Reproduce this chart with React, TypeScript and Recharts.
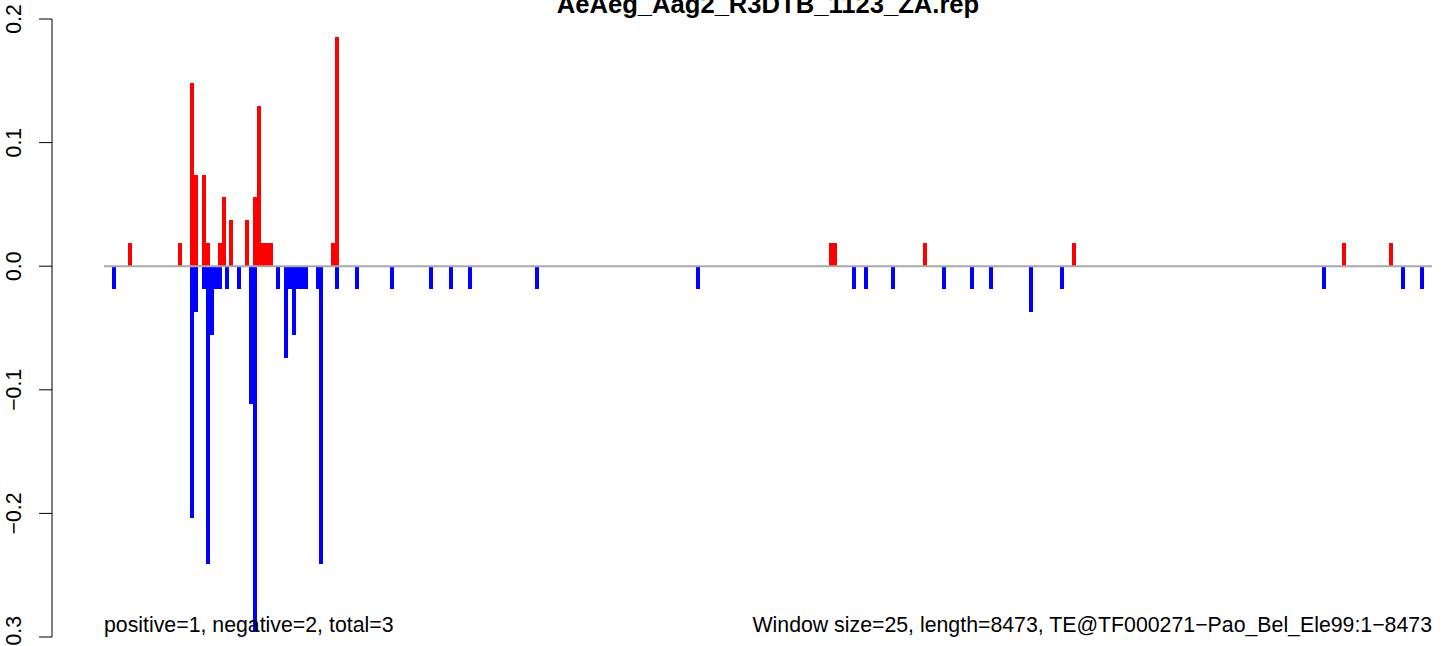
import React from "react";
import { BarChart, Bar, XAxis, YAxis, ReferenceLine } from "recharts";

// window size 25, length 8473 -> 339 windows
const WINDOW_COUNT = 339;

const positiveWindows = [6, 19, 22, 23, 25, 26, 29, 30, 32, 36, 38, 39, 40, 41, 42, 58, 59, 185, 186, 209, 247, 316, 328];
const positiveValues = [
  0.0185, 0.0185, 0.1481, 0.0741, 0.0741, 0.0185, 0.0185, 0.0556, 0.037, 0.037, 0.0556, 0.1296,
  0.0185, 0.0185, 0.0185, 0.0185, 0.1852, 0.0185, 0.0185, 0.0185, 0.0185, 0.0185, 0.0185,
];

const negativeWindows = [
  2, 22, 23, 25, 26, 27, 28, 29, 31, 34, 37, 38, 44, 46, 47, 48, 49, 50, 51, 54, 55, 59, 64, 73, 83, 88, 93,
  110, 151, 191, 194, 201, 214, 221, 226, 236, 244, 311, 331, 336,
];
const negativeValues = [
  -0.0185, -0.2037, -0.037, -0.0185, -0.2407, -0.0556, -0.0185, -0.0185, -0.0185, -0.0185, -0.1111, -0.2963,
  -0.0185, -0.0741, -0.0185, -0.0556, -0.0185, -0.0185, -0.0185, -0.0185, -0.2407, -0.0185, -0.0185, -0.0185,
  -0.0185, -0.0185, -0.0185, -0.0185, -0.0185, -0.0185, -0.0185, -0.0185, -0.0185, -0.0185, -0.0185, -0.037,
  -0.0185, -0.0185, -0.0185, -0.0185,
];

const yTicks = [0.2, 0.1, 0.0, -0.1, -0.2, -0.3];

const TITLE = "AeAeg_Aag2_R3DTB_1123_ZA.rep";
const LEFT_NOTE = "positive=1, negative=2, total=3";
const RIGHT_NOTE = "Window size=25, length=8473, TE@TF000271\u2212Pao_Bel_Ele99:1\u22128473";

const FONT = "'Liberation Sans', Arial, Helvetica, sans-serif";

const data = Array.from({ length: WINDOW_COUNT }, (_, i) => {
  const p = positiveWindows.indexOf(i);
  const n = negativeWindows.indexOf(i);
  return { win: i, pos: p >= 0 ? positiveValues[p] : 0, neg: n >= 0 ? negativeValues[n] : 0 };
});

const fmt = (v: number) => (v < 0 ? "\u2212" + Math.abs(v).toFixed(1) : v.toFixed(1));

function RotatedTick(props: any) {
  const { y, payload } = props;
  return (
    <text
      x={21}
      y={y}
      transform={`rotate(-90, 21, ${y})`}
      textAnchor="middle"
      fontSize={21.3}
      fontFamily={FONT}
      fill="#000"
    >
      {fmt(payload.value)}
    </text>
  );
}

export default function App() {
  return (
    <div style={{ position: "absolute", left: 0, top: 0, width: 1444, height: 646, background: "#fff" }}>
      <BarChart
        width={1444}
        height={646}
        data={data}
        margin={{ top: 19, right: 12, bottom: 9, left: 0 }}
        barCategoryGap={0}
        barGap={0}
        stackOffset="sign"
      >
        <XAxis dataKey="win" hide />
        {/* empty axis that pushes the plot 52px right of the drawn axis, as in R */}
        <YAxis yAxisId="a-pad" width={52} domain={[-0.3, 0.2]} tick={false} axisLine={false} tickLine={false} />
        <YAxis
          yAxisId="b-main"
          width={52}
          domain={[-0.3, 0.2]}
          ticks={yTicks}
          allowDataOverflow
          interval={0}
          tickSize={13}
          tickLine={{ stroke: "#000", strokeWidth: 1 }}
          axisLine={{ stroke: "#000", strokeWidth: 1 }}
          tick={<RotatedTick />}
        />
        <Bar yAxisId="b-main" dataKey="pos" stackId="w" fill="#ff0000" isAnimationActive={false} shapeRendering="crispEdges" />
        <Bar yAxisId="b-main" dataKey="neg" stackId="w" fill="#0000ff" isAnimationActive={false} shapeRendering="crispEdges" />
        <ReferenceLine yAxisId="b-main" y={0} stroke="#a9a9a9" strokeWidth={2} />
      </BarChart>
      <svg width={1444} height={646} style={{ position: "absolute", left: 0, top: 0, pointerEvents: "none" }}>
        <text x={768} y={13} textAnchor="middle" fontSize={25.6} fontWeight="bold" fontFamily={FONT}>
          {TITLE}
        </text>
        <text x={104} y={632} fontSize={21.3} fontFamily={FONT}>
          {LEFT_NOTE}
        </text>
        <text x={1432} y={632} textAnchor="end" fontSize={21.3} fontFamily={FONT}>
          {RIGHT_NOTE}
        </text>
      </svg>
    </div>
  );
}
